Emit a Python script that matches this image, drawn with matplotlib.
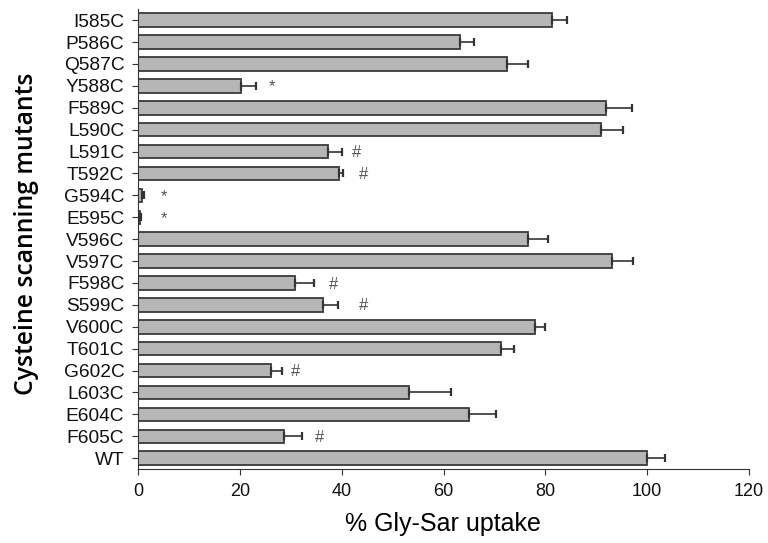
import matplotlib
matplotlib.use("Agg")
import matplotlib.pyplot as plt
import numpy as np

mutants = ["I585C", "P586C", "Q587C", "Y588C", "F589C", "L590C", "L591C", "T592C",
           "G594C", "E595C", "V596C", "V597C", "F598C", "S599C", "V600C", "T601C",
           "G602C", "L603C", "E604C", "F605C", "WT"]
uptake = [81.3, 63.2, 72.4, 20.1, 92.0, 91.0, 37.3, 39.5,
          0.8, 0.3, 76.7, 93.2, 30.9, 36.4, 78.0, 71.3,
          26.0, 53.2, 65.1, 28.7, 100.0]
errors = [3.0, 2.7, 4.3, 3.0, 5.0, 4.3, 2.7, 0.7,
          0.3, 0.3, 3.8, 4.0, 3.6, 2.9, 1.9, 2.5,
          2.2, 8.3, 5.2, 3.5, 3.6]
marks = ["", "", "", "*", "", "", "#", "#",
         "*", "*", "", "", "#", "#", "", "",
         "#", "", "", "#", ""]
mark_x = [0, 0, 0, 26.2, 0, 0, 43.0, 44.3,
          5.1, 5.1, 0, 0, 38.4, 44.2, 0, 0,
          30.9, 0, 0, 35.7, 0]
xticks = [0, 20, 40, 60, 80, 100, 120]

fig = plt.figure(figsize=(7.68, 5.43), dpi=100)
ax = fig.add_axes([0.180, 0.136, 0.795, 0.847])

y = np.arange(len(mutants))
lower = np.zeros(len(errors))
ax.barh(y, uptake, height=0.62, color="#b6b6b6", edgecolor="#3a3a3a", linewidth=1.3,
        xerr=[lower, errors],
        error_kw=dict(ecolor="#333333", elinewidth=1.2, capsize=3, capthick=1.6),
        zorder=2)
for yi, m, mx in zip(y, marks, mark_x):
    if m:
        ax.text(mx, yi + 0.05, m, ha="center", va="center", fontsize=12, color="#555555",
                family="Liberation Sans")

ax.set_ylim(len(mutants) - 0.5, -0.5)
ax.set_xlim(0, 120)
ax.set_yticks(y)
ax.set_yticklabels(mutants, family="Liberation Sans", fontsize=13.8)
ax.set_xticks(xticks)
ax.set_xticklabels([str(t) for t in xticks], family="Liberation Sans", fontsize=13)
ax.spines["top"].set_visible(False)
ax.spines["right"].set_visible(False)
ax.spines["left"].set_color("#333333")
ax.spines["bottom"].set_color("#333333")
ax.tick_params(axis="both", direction="out", length=4, color="#333333", labelcolor="#111111")
ax.tick_params(axis="y", pad=6)
ax.tick_params(axis="x", pad=6)

ax.set_xlabel("% Gly-Sar uptake", family="Liberation Sans", fontsize=18)
ax.xaxis.set_label_coords(0.499, -0.094)
ax.set_ylabel("Cysteine scanning mutants", family="Open Sans", fontsize=17.8,
              fontweight=600)
ax.yaxis.set_label_coords(-0.163, 0.512)

fig.savefig("out.png", dpi=100)
